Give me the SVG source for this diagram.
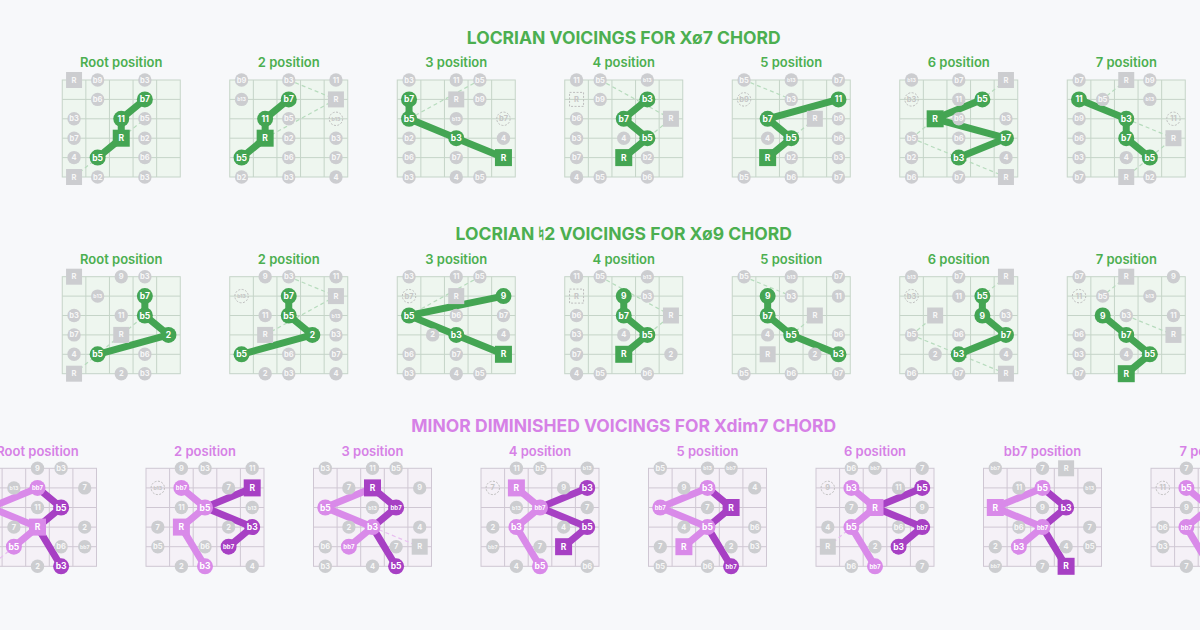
<svg xmlns="http://www.w3.org/2000/svg" width="1200" height="630" viewBox="0 0 1200 630">
<style>
text{font-family:Inter,"Noto Sans","Liberation Sans",sans-serif;font-weight:700;text-anchor:middle;dominant-baseline:central;font-size:7.5px}
.tt{font-size:17.5px;font-weight:700;dominant-baseline:auto}
.pl{font-size:13px;font-weight:600;dominant-baseline:auto}
.cg{fill:#4caf50}.cp{fill:#d681e6}
.g circle,.g rect{fill:#cccdd0}
.g text{fill:#f7f7f7}
.h circle,.h rect{fill:none;stroke:#bdbdbd;stroke-width:1;stroke-dasharray:2 1.5}
.h text{fill:#c6c6c6}
.G circle,.G rect{fill:#44a553}
.L circle,.L rect{fill:#d98ae9}
.D circle,.D rect{fill:#a740c4}
.G text,.L text,.D text{fill:#fff;font-size:8.5px}
.g.s text,.h.s text{font-size:5.2px}
.L.s text,.D.s text,.G.s text{font-size:6px}
.gp,.lp,.dp{fill:none;stroke-width:7;stroke-linejoin:round;stroke-linecap:round}
.gp{stroke:#44a553}.lp{stroke:#d98ae9}.dp{stroke:#a740c4}
.gd,.pd{fill:none;stroke-width:1.2;stroke-dasharray:4 3}
.gd{stroke:#b7dbbd}.pd{stroke:#e8bdf0}
</style>
<defs>
<g id="gg"><rect width="118" height="97" fill="#eef6ef" stroke="#c5d4c8"/><path d="M23.6 0V97M47.2 0V97M70.8 0V97M94.4 0V97M0 19.4H118M0 38.8H118M0 58.2H118M0 77.6H118" stroke="#c5d4c8" fill="none"/></g>
<g id="pg"><rect width="118" height="98" fill="#f5f1f7" stroke="#cfc7d3"/><path d="M23.6 0V98M47.2 0V98M70.8 0V98M94.4 0V98M0 19.6H118M0 39.2H118M0 58.8H118M0 78.4H118" stroke="#cfc7d3" fill="none"/></g>
</defs>
<rect width="1200" height="630" fill="#f7f8fa"/>

<text class="tt cg" x="623.75" y="44">LOCRIAN VOICINGS FOR Xø7 CHORD</text>
<text class="tt cg" x="623.75" y="240">LOCRIAN ♮2 VOICINGS FOR Xø9 CHORD</text>
<text class="tt cp" x="623.75" y="432">MINOR DIMINISHED VOICINGS FOR Xdim7 CHORD</text>

<g class="pl cg">
<text class="pl cg" x="121.25" y="67">Root position</text>
<text class="pl cg" x="288.75" y="67">2 position</text>
<text class="pl cg" x="456.25" y="67">3 position</text>
<text class="pl cg" x="623.75" y="67">4 position</text>
<text class="pl cg" x="791.25" y="67">5 position</text>
<text class="pl cg" x="958.75" y="67">6 position</text>
<text class="pl cg" x="1126.25" y="67">7 position</text>
<text class="pl cg" x="121.25" y="264">Root position</text>
<text class="pl cg" x="288.75" y="264">2 position</text>
<text class="pl cg" x="456.25" y="264">3 position</text>
<text class="pl cg" x="623.75" y="264">4 position</text>
<text class="pl cg" x="791.25" y="264">5 position</text>
<text class="pl cg" x="958.75" y="264">6 position</text>
<text class="pl cg" x="1126.25" y="264">7 position</text>
<text class="pl cp" x="37.5" y="456">Root position</text>
<text class="pl cp" x="205" y="456">2 position</text>
<text class="pl cp" x="372.5" y="456">3 position</text>
<text class="pl cp" x="540" y="456">4 position</text>
<text class="pl cp" x="707.5" y="456">5 position</text>
<text class="pl cp" x="875" y="456">6 position</text>
<text class="pl cp" x="1042.5" y="456">bb7 position</text>
<text class="pl cp" x="1210" y="456">7 position</text>
</g>

<!-- ROW 1 -->
<g id="r1-1" transform="translate(62.25 80)"><use href="#gg"/>
<g class="cn"><path class="gd" d="M11.8 97L59 58.2L82.6 38.8"/><polyline class="gp" points="35.4,77.6 59,58.2 59,38.8 82.6,19.4"/></g>
<g class="g" transform="translate(11.8 0)"><rect x="-8" y="-8" width="16" height="16"/><text>R</text></g>
<g class="g" transform="translate(35.4 0)"><circle r="6.7"/><text>b9</text></g>
<g class="g" transform="translate(82.6 0)"><circle r="6.7"/><text>b3</text></g>
<g class="g" transform="translate(35.4 19.4)"><circle r="6.7"/><text>b6</text></g>
<g class="g" transform="translate(11.8 38.8)"><circle r="6.7"/><text>b3</text></g>
<g class="g" transform="translate(82.6 38.8)"><circle r="6.7"/><text>b5</text></g>
<g class="g" transform="translate(11.8 58.2)"><circle r="6.7"/><text>b7</text></g>
<g class="g" transform="translate(82.6 58.2)"><circle r="6.7"/><text>b2</text></g>
<g class="g" transform="translate(11.8 77.6)"><circle r="6.7"/><text>4</text></g>
<g class="g" transform="translate(82.6 77.6)"><circle r="6.7"/><text>b6</text></g>
<g class="g" transform="translate(11.8 97)"><rect x="-8" y="-8" width="16" height="16"/><text>R</text></g>
<g class="g" transform="translate(35.4 97)"><circle r="6.7"/><text>b2</text></g>
<g class="g" transform="translate(82.6 97)"><circle r="6.7"/><text>b3</text></g>
<g class="G" transform="translate(35.4 77.6)"><circle r="8"/><text>b5</text></g>
<g class="G" transform="translate(59 58.2)"><rect x="-8.5" y="-8.5" width="17" height="17"/><text>R</text></g>
<g class="G" transform="translate(59 38.8)"><circle r="8"/><text>11</text></g>
<g class="G" transform="translate(82.6 19.4)"><circle r="8"/><text>b7</text></g>
</g>

<g id="r1-2" transform="translate(229.75 80)"><use href="#gg"/>
<g class="cn"><path class="gd" d="M59 0L106.2 19.4M35.4 58.2L106.2 19.4"/><polyline class="gp" points="11.8,77.6 35.4,58.2 35.4,38.8 59,19.4"/></g>
<g class="g" transform="translate(11.8 0)"><circle r="6.7"/><text>b9</text></g>
<g class="g" transform="translate(59 0)"><circle r="6.7"/><text>b3</text></g>
<g class="g" transform="translate(106.2 0)"><circle r="6.7"/><text>11</text></g>
<g class="g s" transform="translate(11.8 19.4)"><circle r="6.7"/><text>b13</text></g>
<g class="g" transform="translate(106.2 19.4)"><rect x="-8" y="-8" width="16" height="16"/><text>R</text></g>
<g class="g" transform="translate(59 38.8)"><circle r="6.7"/><text>b5</text></g>
<g class="h s" transform="translate(106.2 38.8)"><circle r="6.7"/><text>b13</text></g>
<g class="g" transform="translate(59 58.2)"><circle r="6.7"/><text>b2</text></g>
<g class="g" transform="translate(106.2 58.2)"><circle r="6.7"/><text>b3</text></g>
<g class="g" transform="translate(59 77.6)"><circle r="6.7"/><text>b6</text></g>
<g class="g" transform="translate(106.2 77.6)"><circle r="6.7"/><text>b7</text></g>
<g class="g" transform="translate(11.8 97)"><circle r="6.7"/><text>b2</text></g>
<g class="g" transform="translate(59 97)"><circle r="6.7"/><text>b3</text></g>
<g class="g" transform="translate(106.2 97)"><circle r="6.7"/><text>4</text></g>
<g class="G" transform="translate(11.8 77.6)"><circle r="8"/><text>b5</text></g>
<g class="G" transform="translate(35.4 58.2)"><rect x="-8.5" y="-8.5" width="17" height="17"/><text>R</text></g>
<g class="G" transform="translate(35.4 38.8)"><circle r="8"/><text>11</text></g>
<g class="G" transform="translate(59 19.4)"><circle r="8"/><text>b7</text></g>
</g>

<g id="r1-3" transform="translate(397.25 80)"><use href="#gg"/>
<g class="cn"><path class="gd" d="M11.8 38.8L82.6 0"/><polyline class="gp" points="11.8,19.4 11.8,38.8 59,58.2 106.2,77.6"/></g>
<g class="g" transform="translate(11.8 0)"><circle r="6.7"/><text>b3</text></g>
<g class="g" transform="translate(59 0)"><circle r="6.7"/><text>11</text></g>
<g class="g" transform="translate(82.6 0)"><circle r="6.7"/><text>b5</text></g>
<g class="g" transform="translate(59 19.4)"><rect x="-8" y="-8" width="16" height="16"/><text>R</text></g>
<g class="g" transform="translate(82.6 19.4)"><circle r="6.7"/><text>b9</text></g>
<g class="g s" transform="translate(59 38.8)"><circle r="6.7"/><text>b13</text></g>
<g class="h" transform="translate(106.2 38.8)"><circle r="6.7"/><text>b7</text></g>
<g class="g" transform="translate(11.8 58.2)"><circle r="6.7"/><text>b2</text></g>
<g class="g" transform="translate(106.2 58.2)"><circle r="6.7"/><text>4</text></g>
<g class="g" transform="translate(11.8 77.6)"><circle r="6.7"/><text>b6</text></g>
<g class="g" transform="translate(59 77.6)"><circle r="6.7"/><text>b7</text></g>
<g class="g" transform="translate(11.8 97)"><circle r="6.7"/><text>b3</text></g>
<g class="g" transform="translate(59 97)"><circle r="6.7"/><text>4</text></g>
<g class="g" transform="translate(82.6 97)"><circle r="6.7"/><text>b5</text></g>
<g class="G" transform="translate(11.8 19.4)"><circle r="8"/><text>b7</text></g>
<g class="G" transform="translate(11.8 38.8)"><circle r="8"/><text>b5</text></g>
<g class="G" transform="translate(59 58.2)"><circle r="8"/><text>b3</text></g>
<g class="G" transform="translate(106.2 77.6)"><rect x="-8.5" y="-8.5" width="17" height="17"/><text>R</text></g>
</g>

<g id="r1-4" transform="translate(564.75 80)"><use href="#gg"/>
<g class="cn"><path class="gd" d="M35.4 0L106.2 38.8L82.6 58.2"/><polyline class="gp" points="59,77.6 82.6,58.2 59,38.8 82.6,19.4"/></g>
<g class="g" transform="translate(11.8 0)"><circle r="6.7"/><text>11</text></g>
<g class="g" transform="translate(35.4 0)"><circle r="6.7"/><text>b5</text></g>
<g class="g s" transform="translate(82.6 0)"><circle r="6.7"/><text>b13</text></g>
<g class="h" transform="translate(11.8 19.4)"><rect x="-7" y="-7" width="14" height="14"/><text>R</text></g>
<g class="g" transform="translate(35.4 19.4)"><circle r="6.7"/><text>b9</text></g>
<g class="g" transform="translate(11.8 38.8)"><circle r="6.7"/><text>b6</text></g>
<g class="g" transform="translate(106.2 38.8)"><rect x="-8" y="-8" width="16" height="16"/><text>R</text></g>
<g class="g" transform="translate(11.8 58.2)"><circle r="6.7"/><text>b3</text></g>
<g class="g" transform="translate(59 58.2)"><circle r="6.7"/><text>4</text></g>
<g class="g" transform="translate(11.8 77.6)"><circle r="6.7"/><text>b7</text></g>
<g class="g" transform="translate(82.6 77.6)"><circle r="6.7"/><text>b2</text></g>
<g class="g" transform="translate(11.8 97)"><circle r="6.7"/><text>4</text></g>
<g class="g" transform="translate(35.4 97)"><circle r="6.7"/><text>b5</text></g>
<g class="g" transform="translate(82.6 97)"><circle r="6.7"/><text>b6</text></g>
<g class="G" transform="translate(59 77.6)"><rect x="-8.5" y="-8.5" width="17" height="17"/><text>R</text></g>
<g class="G" transform="translate(82.6 58.2)"><circle r="8"/><text>b5</text></g>
<g class="G" transform="translate(59 38.8)"><circle r="8"/><text>b7</text></g>
<g class="G" transform="translate(82.6 19.4)"><circle r="8"/><text>b3</text></g>
</g>

<g id="r1-5" transform="translate(732.25 80)"><use href="#gg"/>
<g class="cn"><path class="gd" d="M11.8 0L59 19.4M82.6 38.8L59 58.2"/><polyline class="gp" points="35.4,77.6 59,58.2 35.4,38.8 106.2,19.4"/></g>
<g class="g" transform="translate(11.8 0)"><circle r="6.7"/><text>b5</text></g>
<g class="g s" transform="translate(59 0)"><circle r="6.7"/><text>b13</text></g>
<g class="g" transform="translate(106.2 0)"><circle r="6.7"/><text>b7</text></g>
<g class="h" transform="translate(11.8 19.4)"><circle r="6.7"/><text>b9</text></g>
<g class="g" transform="translate(59 19.4)"><circle r="6.7"/><text>b3</text></g>
<g class="g" transform="translate(82.6 38.8)"><rect x="-8" y="-8" width="16" height="16"/><text>R</text></g>
<g class="g" transform="translate(106.2 38.8)"><circle r="6.7"/><text>b9</text></g>
<g class="g" transform="translate(35.4 58.2)"><circle r="6.7"/><text>4</text></g>
<g class="g" transform="translate(106.2 58.2)"><circle r="6.7"/><text>b6</text></g>
<g class="g" transform="translate(59 77.6)"><circle r="6.7"/><text>b2</text></g>
<g class="g" transform="translate(106.2 77.6)"><circle r="6.7"/><text>b3</text></g>
<g class="g" transform="translate(11.8 97)"><circle r="6.7"/><text>b5</text></g>
<g class="g" transform="translate(59 97)"><circle r="6.7"/><text>b6</text></g>
<g class="g" transform="translate(106.2 97)"><circle r="6.7"/><text>b7</text></g>
<g class="G" transform="translate(35.4 77.6)"><rect x="-8.5" y="-8.5" width="17" height="17"/><text>R</text></g>
<g class="G" transform="translate(59 58.2)"><circle r="8"/><text>b5</text></g>
<g class="G" transform="translate(35.4 38.8)"><circle r="8"/><text>b7</text></g>
<g class="G" transform="translate(106.2 19.4)"><circle r="8"/><text>11</text></g>
</g>

<g id="r1-6" transform="translate(899.75 80)"><use href="#gg"/>
<g class="cn"><path class="gd" d="M106.2 0L82.6 19.4M11.8 58.2L35.4 38.8M11.8 58.2L106.2 97"/><polyline class="gp" points="82.6,19.4 35.4,38.8 106.2,58.2 59,77.6"/></g>
<g class="g s" transform="translate(11.8 0)"><circle r="6.7"/><text>b13</text></g>
<g class="g" transform="translate(59 0)"><circle r="6.7"/><text>b7</text></g>
<g class="g" transform="translate(106.2 0)"><rect x="-8" y="-8" width="16" height="16"/><text>R</text></g>
<g class="h" transform="translate(11.8 19.4)"><circle r="6.7"/><text>b3</text></g>
<g class="g" transform="translate(59 19.4)"><circle r="6.7"/><text>11</text></g>
<g class="g" transform="translate(59 38.8)"><circle r="6.7"/><text>b9</text></g>
<g class="g" transform="translate(106.2 38.8)"><circle r="6.7"/><text>b3</text></g>
<g class="g" transform="translate(11.8 58.2)"><circle r="6.7"/><text>b5</text></g>
<g class="g" transform="translate(59 58.2)"><circle r="6.7"/><text>b6</text></g>
<g class="g" transform="translate(11.8 77.6)"><circle r="6.7"/><text>b2</text></g>
<g class="g" transform="translate(106.2 77.6)"><circle r="6.7"/><text>4</text></g>
<g class="g" transform="translate(11.8 97)"><circle r="6.7"/><text>b6</text></g>
<g class="g" transform="translate(59 97)"><circle r="6.7"/><text>b7</text></g>
<g class="g" transform="translate(106.2 97)"><rect x="-8" y="-8" width="16" height="16"/><text>R</text></g>
<g class="G" transform="translate(82.6 19.4)"><circle r="8"/><text>b5</text></g>
<g class="G" transform="translate(35.4 38.8)"><rect x="-8.5" y="-8.5" width="17" height="17"/><text>R</text></g>
<g class="G" transform="translate(106.2 58.2)"><circle r="8"/><text>b7</text></g>
<g class="G" transform="translate(59 77.6)"><circle r="8"/><text>b3</text></g>
</g>

<g id="r1-7" transform="translate(1067.25 80)"><use href="#gg"/>
<g class="cn"><path class="gd" d="M59 0L35.4 19.4M59 38.8L106.2 58.2L59 97"/><polyline class="gp" points="11.8,19.4 59,38.8 59,58.2 82.6,77.6"/></g>
<g class="g" transform="translate(11.8 0)"><circle r="6.7"/><text>b7</text></g>
<g class="g" transform="translate(59 0)"><rect x="-8" y="-8" width="16" height="16"/><text>R</text></g>
<g class="g" transform="translate(82.6 0)"><circle r="6.7"/><text>b9</text></g>
<g class="g" transform="translate(35.4 19.4)"><circle r="6.7"/><text>b5</text></g>
<g class="g s" transform="translate(82.6 19.4)"><circle r="6.7"/><text>b13</text></g>
<g class="g" transform="translate(11.8 38.8)"><circle r="6.7"/><text>b9</text></g>
<g class="h" transform="translate(106.2 38.8)"><circle r="6.7"/><text>11</text></g>
<g class="g" transform="translate(11.8 58.2)"><circle r="6.7"/><text>b6</text></g>
<g class="g" transform="translate(106.2 58.2)"><rect x="-8" y="-8" width="16" height="16"/><text>R</text></g>
<g class="g" transform="translate(11.8 77.6)"><circle r="6.7"/><text>b3</text></g>
<g class="g" transform="translate(59 77.6)"><circle r="6.7"/><text>4</text></g>
<g class="g" transform="translate(11.8 97)"><circle r="6.7"/><text>b7</text></g>
<g class="g" transform="translate(59 97)"><rect x="-8" y="-8" width="16" height="16"/><text>R</text></g>
<g class="g" transform="translate(82.6 97)"><circle r="6.7"/><text>b2</text></g>
<g class="G" transform="translate(11.8 19.4)"><circle r="8"/><text>11</text></g>
<g class="G" transform="translate(59 38.8)"><circle r="8"/><text>b3</text></g>
<g class="G" transform="translate(59 58.2)"><circle r="8"/><text>b7</text></g>
<g class="G" transform="translate(82.6 77.6)"><circle r="8"/><text>b5</text></g>
</g>

<!-- ROW 2 -->
<g id="r2-1" transform="translate(62.25 276.7)"><use href="#gg"/>
<g class="cn"><path class="gd" d="M11.8 97L59 58.2L82.6 38.8"/><polyline class="gp" points="35.4,77.6 106.2,58.2 82.6,38.8 82.6,19.4"/></g>
<g class="g" transform="translate(11.8 0)"><rect x="-8" y="-8" width="16" height="16"/><text>R</text></g>
<g class="g" transform="translate(59 0)"><circle r="6.7"/><text>9</text></g>
<g class="g" transform="translate(82.6 0)"><circle r="6.7"/><text>b3</text></g>
<g class="g s" transform="translate(35.4 19.4)"><circle r="6.7"/><text>b13</text></g>
<g class="g" transform="translate(11.8 38.8)"><circle r="6.7"/><text>b3</text></g>
<g class="g" transform="translate(59 38.8)"><circle r="6.7"/><text>11</text></g>
<g class="g" transform="translate(11.8 58.2)"><circle r="6.7"/><text>b7</text></g>
<g class="g" transform="translate(59 58.2)"><rect x="-8" y="-8" width="16" height="16"/><text>R</text></g>
<g class="g" transform="translate(11.8 77.6)"><circle r="6.7"/><text>4</text></g>
<g class="g" transform="translate(82.6 77.6)"><circle r="6.7"/><text>b6</text></g>
<g class="g" transform="translate(11.8 97)"><rect x="-8" y="-8" width="16" height="16"/><text>R</text></g>
<g class="g" transform="translate(59 97)"><circle r="6.7"/><text>2</text></g>
<g class="g" transform="translate(82.6 97)"><circle r="6.7"/><text>b3</text></g>
<g class="G" transform="translate(35.4 77.6)"><circle r="8"/><text>b5</text></g>
<g class="G" transform="translate(106.2 58.2)"><circle r="8"/><text>2</text></g>
<g class="G" transform="translate(82.6 38.8)"><circle r="8"/><text>b5</text></g>
<g class="G" transform="translate(82.6 19.4)"><circle r="8"/><text>b7</text></g>
</g>

<g id="r2-2" transform="translate(229.75 276.7)"><use href="#gg"/>
<g class="cn"><path class="gd" d="M59 0L106.2 19.4M35.4 58.2L106.2 19.4"/><polyline class="gp" points="11.8,77.6 82.6,58.2 59,38.8 59,19.4"/></g>
<g class="g" transform="translate(35.4 0)"><circle r="6.7"/><text>9</text></g>
<g class="g" transform="translate(59 0)"><circle r="6.7"/><text>b3</text></g>
<g class="g" transform="translate(106.2 0)"><circle r="6.7"/><text>11</text></g>
<g class="h s" transform="translate(11.8 19.4)"><circle r="6.7"/><text>b13</text></g>
<g class="g" transform="translate(106.2 19.4)"><rect x="-8" y="-8" width="16" height="16"/><text>R</text></g>
<g class="g" transform="translate(35.4 38.8)"><circle r="6.7"/><text>11</text></g>
<g class="g s" transform="translate(106.2 38.8)"><circle r="6.7"/><text>b13</text></g>
<g class="g" transform="translate(35.4 58.2)"><rect x="-8" y="-8" width="16" height="16"/><text>R</text></g>
<g class="g" transform="translate(106.2 58.2)"><circle r="6.7"/><text>b3</text></g>
<g class="g" transform="translate(59 77.6)"><circle r="6.7"/><text>b6</text></g>
<g class="g" transform="translate(106.2 77.6)"><circle r="6.7"/><text>b7</text></g>
<g class="g" transform="translate(35.4 97)"><circle r="6.7"/><text>2</text></g>
<g class="g" transform="translate(59 97)"><circle r="6.7"/><text>b3</text></g>
<g class="g" transform="translate(106.2 97)"><circle r="6.7"/><text>4</text></g>
<g class="G" transform="translate(11.8 77.6)"><circle r="8"/><text>b5</text></g>
<g class="G" transform="translate(82.6 58.2)"><circle r="8"/><text>2</text></g>
<g class="G" transform="translate(59 38.8)"><circle r="8"/><text>b5</text></g>
<g class="G" transform="translate(59 19.4)"><circle r="8"/><text>b7</text></g>
</g>

<g id="r2-3" transform="translate(397.25 276.7)"><use href="#gg"/>
<g class="cn"><path class="gd" d="M11.8 38.8L82.6 0"/><polyline class="gp" points="106.2,77.6 59,58.2 11.8,38.8 106.2,19.4"/></g>
<g class="g" transform="translate(11.8 0)"><circle r="6.7"/><text>b3</text></g>
<g class="g" transform="translate(59 0)"><circle r="6.7"/><text>11</text></g>
<g class="g" transform="translate(82.6 0)"><circle r="6.7"/><text>b5</text></g>
<g class="h" transform="translate(11.8 19.4)"><circle r="6.7"/><text>b7</text></g>
<g class="g" transform="translate(59 19.4)"><rect x="-8" y="-8" width="16" height="16"/><text>R</text></g>
<g class="g" transform="translate(59 38.8)"><circle r="6.7"/><text>b6</text></g>
<g class="g" transform="translate(106.2 38.8)"><circle r="6.7"/><text>b7</text></g>
<g class="g" transform="translate(35.4 58.2)"><circle r="6.7"/><text>2</text></g>
<g class="g" transform="translate(106.2 58.2)"><circle r="6.7"/><text>4</text></g>
<g class="g" transform="translate(11.8 77.6)"><circle r="6.7"/><text>b6</text></g>
<g class="g" transform="translate(59 77.6)"><circle r="6.7"/><text>b7</text></g>
<g class="g" transform="translate(11.8 97)"><circle r="6.7"/><text>b3</text></g>
<g class="g" transform="translate(59 97)"><circle r="6.7"/><text>4</text></g>
<g class="g" transform="translate(82.6 97)"><circle r="6.7"/><text>b5</text></g>
<g class="G" transform="translate(106.2 77.6)"><rect x="-8.5" y="-8.5" width="17" height="17"/><text>R</text></g>
<g class="G" transform="translate(59 58.2)"><circle r="8"/><text>b3</text></g>
<g class="G" transform="translate(11.8 38.8)"><circle r="8"/><text>b5</text></g>
<g class="G" transform="translate(106.2 19.4)"><circle r="8"/><text>9</text></g>
</g>

<g id="r2-4" transform="translate(564.75 276.7)"><use href="#gg"/>
<g class="cn"><path class="gd" d="M35.4 0L106.2 38.8L82.6 58.2"/><polyline class="gp" points="59,77.6 82.6,58.2 59,38.8 59,19.4"/></g>
<g class="g" transform="translate(11.8 0)"><circle r="6.7"/><text>11</text></g>
<g class="g" transform="translate(35.4 0)"><circle r="6.7"/><text>b5</text></g>
<g class="g s" transform="translate(82.6 0)"><circle r="6.7"/><text>b13</text></g>
<g class="h" transform="translate(11.8 19.4)"><rect x="-7" y="-7" width="14" height="14"/><text>R</text></g>
<g class="g" transform="translate(82.6 19.4)"><circle r="6.7"/><text>b3</text></g>
<g class="g" transform="translate(11.8 38.8)"><circle r="6.7"/><text>b6</text></g>
<g class="g" transform="translate(106.2 38.8)"><rect x="-8" y="-8" width="16" height="16"/><text>R</text></g>
<g class="g" transform="translate(11.8 58.2)"><circle r="6.7"/><text>b3</text></g>
<g class="g" transform="translate(59 58.2)"><circle r="6.7"/><text>4</text></g>
<g class="g" transform="translate(11.8 77.6)"><circle r="6.7"/><text>b7</text></g>
<g class="g" transform="translate(106.2 77.6)"><circle r="6.7"/><text>2</text></g>
<g class="g" transform="translate(11.8 97)"><circle r="6.7"/><text>4</text></g>
<g class="g" transform="translate(35.4 97)"><circle r="6.7"/><text>b5</text></g>
<g class="g" transform="translate(82.6 97)"><circle r="6.7"/><text>b6</text></g>
<g class="G" transform="translate(59 77.6)"><rect x="-8.5" y="-8.5" width="17" height="17"/><text>R</text></g>
<g class="G" transform="translate(82.6 58.2)"><circle r="8"/><text>b5</text></g>
<g class="G" transform="translate(59 38.8)"><circle r="8"/><text>b7</text></g>
<g class="G" transform="translate(59 19.4)"><circle r="8"/><text>9</text></g>
</g>

<g id="r2-5" transform="translate(732.25 276.7)"><use href="#gg"/>
<g class="cn"><path class="gd" d="M11.8 0L59 19.4M82.6 38.8L59 58.2"/><polyline class="gp" points="35.4,19.4 35.4,38.8 59,58.2 106.2,77.6"/></g>
<g class="g" transform="translate(11.8 0)"><circle r="6.7"/><text>b5</text></g>
<g class="g s" transform="translate(59 0)"><circle r="6.7"/><text>b13</text></g>
<g class="g" transform="translate(106.2 0)"><circle r="6.7"/><text>b7</text></g>
<g class="g" transform="translate(59 19.4)"><circle r="6.7"/><text>b3</text></g>
<g class="g" transform="translate(106.2 19.4)"><circle r="6.7"/><text>11</text></g>
<g class="g" transform="translate(82.6 38.8)"><rect x="-8" y="-8" width="16" height="16"/><text>R</text></g>
<g class="g" transform="translate(35.4 58.2)"><circle r="6.7"/><text>4</text></g>
<g class="g" transform="translate(106.2 58.2)"><circle r="6.7"/><text>b6</text></g>
<g class="g" transform="translate(35.4 77.6)"><rect x="-8" y="-8" width="16" height="16"/><text>R</text></g>
<g class="g" transform="translate(82.6 77.6)"><circle r="6.7"/><text>2</text></g>
<g class="g" transform="translate(11.8 97)"><circle r="6.7"/><text>b5</text></g>
<g class="g" transform="translate(59 97)"><circle r="6.7"/><text>b6</text></g>
<g class="g" transform="translate(106.2 97)"><circle r="6.7"/><text>b7</text></g>
<g class="G" transform="translate(35.4 19.4)"><circle r="8"/><text>9</text></g>
<g class="G" transform="translate(35.4 38.8)"><circle r="8"/><text>b7</text></g>
<g class="G" transform="translate(59 58.2)"><circle r="8"/><text>b5</text></g>
<g class="G" transform="translate(106.2 77.6)"><circle r="8"/><text>b3</text></g>
</g>

<g id="r2-6" transform="translate(899.75 276.7)"><use href="#gg"/>
<g class="cn"><path class="gd" d="M106.2 0L82.6 19.4M11.8 58.2L35.4 38.8M11.8 58.2L106.2 97"/><polyline class="gp" points="82.6,19.4 82.6,38.8 106.2,58.2 59,77.6"/></g>
<g class="g s" transform="translate(11.8 0)"><circle r="6.7"/><text>b13</text></g>
<g class="g" transform="translate(59 0)"><circle r="6.7"/><text>b7</text></g>
<g class="g" transform="translate(106.2 0)"><rect x="-8" y="-8" width="16" height="16"/><text>R</text></g>
<g class="h" transform="translate(11.8 19.4)"><circle r="6.7"/><text>b3</text></g>
<g class="g" transform="translate(59 19.4)"><circle r="6.7"/><text>11</text></g>
<g class="g" transform="translate(35.4 38.8)"><rect x="-8" y="-8" width="16" height="16"/><text>R</text></g>
<g class="g" transform="translate(106.2 38.8)"><circle r="6.7"/><text>b3</text></g>
<g class="g" transform="translate(11.8 58.2)"><circle r="6.7"/><text>b5</text></g>
<g class="g" transform="translate(59 58.2)"><circle r="6.7"/><text>b6</text></g>
<g class="g" transform="translate(35.4 77.6)"><circle r="6.7"/><text>2</text></g>
<g class="g" transform="translate(106.2 77.6)"><circle r="6.7"/><text>4</text></g>
<g class="g" transform="translate(11.8 97)"><circle r="6.7"/><text>b6</text></g>
<g class="g" transform="translate(59 97)"><circle r="6.7"/><text>b7</text></g>
<g class="g" transform="translate(106.2 97)"><rect x="-8" y="-8" width="16" height="16"/><text>R</text></g>
<g class="G" transform="translate(82.6 19.4)"><circle r="8"/><text>b5</text></g>
<g class="G" transform="translate(82.6 38.8)"><circle r="8"/><text>9</text></g>
<g class="G" transform="translate(106.2 58.2)"><circle r="8"/><text>b7</text></g>
<g class="G" transform="translate(59 77.6)"><circle r="8"/><text>b3</text></g>
</g>

<g id="r2-7" transform="translate(1067.25 276.7)"><use href="#gg"/>
<g class="cn"><path class="gd" d="M59 0L35.4 19.4M59 38.8L106.2 58.2"/><polyline class="gp" points="35.4,38.8 59,58.2 82.6,77.6 59,97"/></g>
<g class="g" transform="translate(11.8 0)"><circle r="6.7"/><text>b7</text></g>
<g class="g" transform="translate(59 0)"><rect x="-8" y="-8" width="16" height="16"/><text>R</text></g>
<g class="g" transform="translate(106.2 0)"><circle r="6.7"/><text>9</text></g>
<g class="h" transform="translate(11.8 19.4)"><circle r="6.7"/><text>11</text></g>
<g class="g" transform="translate(35.4 19.4)"><circle r="6.7"/><text>b5</text></g>
<g class="g s" transform="translate(82.6 19.4)"><circle r="6.7"/><text>b13</text></g>
<g class="g" transform="translate(59 38.8)"><circle r="6.7"/><text>b3</text></g>
<g class="g" transform="translate(106.2 38.8)"><circle r="6.7"/><text>11</text></g>
<g class="g" transform="translate(11.8 58.2)"><circle r="6.7"/><text>b6</text></g>
<g class="g" transform="translate(106.2 58.2)"><rect x="-8" y="-8" width="16" height="16"/><text>R</text></g>
<g class="g" transform="translate(11.8 77.6)"><circle r="6.7"/><text>b3</text></g>
<g class="g" transform="translate(59 77.6)"><circle r="6.7"/><text>4</text></g>
<g class="g" transform="translate(11.8 97)"><circle r="6.7"/><text>b7</text></g>
<g class="G" transform="translate(35.4 38.8)"><circle r="8"/><text>9</text></g>
<g class="G" transform="translate(59 58.2)"><circle r="8"/><text>b7</text></g>
<g class="G" transform="translate(82.6 77.6)"><circle r="8"/><text>b5</text></g>
<g class="G" transform="translate(59 97)"><rect x="-8.5" y="-8.5" width="17" height="17"/><text>R</text></g>
</g>

<!-- ROW 3 -->
<g id="r3-1" transform="translate(-21.5 468.3)"><use href="#pg"/>
<g class="cn"><path class="pd" d="M35.4 78.4L11.8 98"/><polyline class="lp" points="59,19.6 11.8,39.2 59,58.8 35.4,78.4"/><polyline class="dp" points="59,19.6 82.6,39.2 59,58.8 82.6,98"/></g>
<g class="g" transform="translate(11.8 0)"><rect x="-8" y="-8" width="16" height="16"/><text>R</text></g>
<g class="g" transform="translate(59 0)"><circle r="6.7"/><text>9</text></g>
<g class="g" transform="translate(82.6 0)"><circle r="6.7"/><text>b3</text></g>
<g class="g s" transform="translate(35.4 19.6)"><circle r="6.7"/><text>b13</text></g>
<g class="g" transform="translate(106.2 19.6)"><circle r="6.7"/><text>7</text></g>
<g class="g" transform="translate(59 39.2)"><circle r="6.7"/><text>11</text></g>
<g class="g" transform="translate(35.4 58.8)"><circle r="6.7"/><text>7</text></g>
<g class="g" transform="translate(106.2 58.8)"><circle r="6.7"/><text>2</text></g>
<g class="g" transform="translate(11.8 78.4)"><circle r="6.7"/><text>4</text></g>
<g class="g" transform="translate(82.6 78.4)"><circle r="6.7"/><text>b6</text></g>
<g class="g s" transform="translate(106.2 78.4)"><circle r="6.7"/><text>bb7</text></g>
<g class="g" transform="translate(11.8 98)"><rect x="-8" y="-8" width="16" height="16"/><text>R</text></g>
<g class="g" transform="translate(59 98)"><circle r="6.7"/><text>2</text></g>
<g class="L s" transform="translate(59 19.6)"><circle r="8"/><text>bb7</text></g>
<g class="L" transform="translate(11.8 39.2)"><circle r="8"/><text>b3</text></g>
<g class="D" transform="translate(82.6 39.2)"><circle r="8"/><text>b5</text></g>
<g class="L" transform="translate(59 58.8)"><rect x="-8.5" y="-8.5" width="17" height="17"/><text>R</text></g>
<g class="L" transform="translate(35.4 78.4)"><circle r="8"/><text>b5</text></g>
<g class="D" transform="translate(82.6 98)"><circle r="8"/><text>b3</text></g>
</g>

<g id="r3-2" transform="translate(146 468.3)"><use href="#pg"/>
<g class="cn"><polyline class="lp" points="35.4,19.6 59,39.2 35.4,58.8 59,98"/><polyline class="dp" points="106.2,19.6 59,39.2 106.2,58.8 82.6,78.4"/></g>
<g class="g" transform="translate(35.4 0)"><circle r="6.7"/><text>9</text></g>
<g class="g" transform="translate(59 0)"><circle r="6.7"/><text>b3</text></g>
<g class="g" transform="translate(106.2 0)"><circle r="6.7"/><text>11</text></g>
<g class="h s" transform="translate(11.8 19.6)"><circle r="6.7"/><text>b13</text></g>
<g class="g" transform="translate(82.6 19.6)"><circle r="6.7"/><text>7</text></g>
<g class="g" transform="translate(35.4 39.2)"><circle r="6.7"/><text>11</text></g>
<g class="g s" transform="translate(106.2 39.2)"><circle r="6.7"/><text>b13</text></g>
<g class="g" transform="translate(11.8 58.8)"><circle r="6.7"/><text>7</text></g>
<g class="g" transform="translate(82.6 58.8)"><circle r="6.7"/><text>2</text></g>
<g class="g" transform="translate(11.8 78.4)"><circle r="6.7"/><text>b5</text></g>
<g class="g" transform="translate(59 78.4)"><circle r="6.7"/><text>b6</text></g>
<g class="g" transform="translate(35.4 98)"><circle r="6.7"/><text>2</text></g>
<g class="g" transform="translate(106.2 98)"><circle r="6.7"/><text>4</text></g>
<g class="L s" transform="translate(35.4 19.6)"><circle r="8"/><text>bb7</text></g>
<g class="D" transform="translate(106.2 19.6)"><rect x="-8.5" y="-8.5" width="17" height="17"/><text>R</text></g>
<g class="L" transform="translate(59 39.2)"><circle r="8"/><text>b5</text></g>
<g class="L" transform="translate(35.4 58.8)"><rect x="-8.5" y="-8.5" width="17" height="17"/><text>R</text></g>
<g class="D" transform="translate(106.2 58.8)"><circle r="8"/><text>b3</text></g>
<g class="D s" transform="translate(82.6 78.4)"><circle r="8"/><text>bb7</text></g>
<g class="L" transform="translate(59 98)"><circle r="8"/><text>b3</text></g>
</g>

<g id="r3-3" transform="translate(313.5 468.3)"><use href="#pg"/>
<g class="cn"><path class="pd" d="M59 58.8L106.2 78.4"/><polyline class="lp" points="59,19.6 11.8,39.2 59,58.8 35.4,78.4"/><polyline class="dp" points="59,19.6 82.6,39.2 59,58.8 82.6,98"/></g>
<g class="g" transform="translate(11.8 0)"><circle r="6.7"/><text>b3</text></g>
<g class="g" transform="translate(59 0)"><circle r="6.7"/><text>11</text></g>
<g class="g" transform="translate(82.6 0)"><circle r="6.7"/><text>b5</text></g>
<g class="g" transform="translate(35.4 19.6)"><circle r="6.7"/><text>7</text></g>
<g class="g" transform="translate(106.2 19.6)"><circle r="6.7"/><text>9</text></g>
<g class="g s" transform="translate(59 39.2)"><circle r="6.7"/><text>b13</text></g>
<g class="g" transform="translate(35.4 58.8)"><circle r="6.7"/><text>2</text></g>
<g class="g" transform="translate(106.2 58.8)"><circle r="6.7"/><text>4</text></g>
<g class="g" transform="translate(11.8 78.4)"><circle r="6.7"/><text>b6</text></g>
<g class="g" transform="translate(82.6 78.4)"><circle r="6.7"/><text>7</text></g>
<g class="g" transform="translate(106.2 78.4)"><rect x="-8" y="-8" width="16" height="16"/><text>R</text></g>
<g class="g" transform="translate(11.8 98)"><circle r="6.7"/><text>b3</text></g>
<g class="g" transform="translate(59 98)"><circle r="6.7"/><text>4</text></g>
<g class="D" transform="translate(59 19.6)"><rect x="-8.5" y="-8.5" width="17" height="17"/><text>R</text></g>
<g class="L" transform="translate(11.8 39.2)"><circle r="8"/><text>b5</text></g>
<g class="D s" transform="translate(82.6 39.2)"><circle r="8"/><text>bb7</text></g>
<g class="L" transform="translate(59 58.8)"><circle r="8"/><text>b3</text></g>
<g class="L s" transform="translate(35.4 78.4)"><circle r="8"/><text>bb7</text></g>
<g class="D" transform="translate(82.6 98)"><circle r="8"/><text>b5</text></g>
</g>

<g id="r3-4" transform="translate(481 468.3)"><use href="#pg"/>
<g class="cn"><polyline class="lp" points="35.4,19.6 59,39.2 35.4,58.8 59,98"/><polyline class="dp" points="106.2,19.6 59,39.2 106.2,58.8 82.6,78.4"/></g>
<g class="g" transform="translate(35.4 0)"><circle r="6.7"/><text>11</text></g>
<g class="g" transform="translate(59 0)"><circle r="6.7"/><text>b5</text></g>
<g class="g s" transform="translate(106.2 0)"><circle r="6.7"/><text>b13</text></g>
<g class="h" transform="translate(11.8 19.6)"><circle r="6.7"/><text>7</text></g>
<g class="g" transform="translate(82.6 19.6)"><circle r="6.7"/><text>9</text></g>
<g class="g s" transform="translate(35.4 39.2)"><circle r="6.7"/><text>b13</text></g>
<g class="g" transform="translate(106.2 39.2)"><circle r="6.7"/><text>7</text></g>
<g class="g" transform="translate(11.8 58.8)"><circle r="6.7"/><text>2</text></g>
<g class="g" transform="translate(82.6 58.8)"><circle r="6.7"/><text>4</text></g>
<g class="g s" transform="translate(11.8 78.4)"><circle r="6.7"/><text>bb7</text></g>
<g class="g" transform="translate(59 78.4)"><circle r="6.7"/><text>7</text></g>
<g class="g" transform="translate(35.4 98)"><circle r="6.7"/><text>4</text></g>
<g class="g" transform="translate(106.2 98)"><circle r="6.7"/><text>b6</text></g>
<g class="L" transform="translate(35.4 19.6)"><rect x="-8.5" y="-8.5" width="17" height="17"/><text>R</text></g>
<g class="D" transform="translate(106.2 19.6)"><circle r="8"/><text>b3</text></g>
<g class="L s" transform="translate(59 39.2)"><circle r="8"/><text>bb7</text></g>
<g class="L" transform="translate(35.4 58.8)"><circle r="8"/><text>b3</text></g>
<g class="D" transform="translate(106.2 58.8)"><circle r="8"/><text>b5</text></g>
<g class="D" transform="translate(82.6 78.4)"><rect x="-8.5" y="-8.5" width="17" height="17"/><text>R</text></g>
<g class="L" transform="translate(59 98)"><circle r="8"/><text>b5</text></g>
</g>

<g id="r3-5" transform="translate(648.5 468.3)"><use href="#pg"/>
<g class="cn"><polyline class="lp" points="59,19.6 11.8,39.2 59,58.8 35.4,78.4"/><polyline class="dp" points="59,19.6 82.6,39.2 59,58.8 82.6,98"/></g>
<g class="g" transform="translate(11.8 0)"><circle r="6.7"/><text>b5</text></g>
<g class="g s" transform="translate(59 0)"><circle r="6.7"/><text>b13</text></g>
<g class="g s" transform="translate(82.6 0)"><circle r="6.7"/><text>bb7</text></g>
<g class="g" transform="translate(35.4 19.6)"><circle r="6.7"/><text>9</text></g>
<g class="g" transform="translate(106.2 19.6)"><circle r="6.7"/><text>4</text></g>
<g class="g" transform="translate(59 39.2)"><circle r="6.7"/><text>7</text></g>
<g class="g" transform="translate(35.4 58.8)"><circle r="6.7"/><text>4</text></g>
<g class="g" transform="translate(106.2 58.8)"><circle r="6.7"/><text>b6</text></g>
<g class="g" transform="translate(11.8 78.4)"><circle r="6.7"/><text>7</text></g>
<g class="g" transform="translate(82.6 78.4)"><circle r="6.7"/><text>2</text></g>
<g class="g" transform="translate(106.2 78.4)"><circle r="6.7"/><text>b3</text></g>
<g class="g" transform="translate(11.8 98)"><circle r="6.7"/><text>b5</text></g>
<g class="g" transform="translate(59 98)"><circle r="6.7"/><text>b6</text></g>
<g class="L" transform="translate(59 19.6)"><circle r="8"/><text>b3</text></g>
<g class="L s" transform="translate(11.8 39.2)"><circle r="8"/><text>bb7</text></g>
<g class="D" transform="translate(82.6 39.2)"><rect x="-8.5" y="-8.5" width="17" height="17"/><text>R</text></g>
<g class="L" transform="translate(59 58.8)"><circle r="8"/><text>b5</text></g>
<g class="L" transform="translate(35.4 78.4)"><rect x="-8.5" y="-8.5" width="17" height="17"/><text>R</text></g>
<g class="D s" transform="translate(82.6 98)"><circle r="8"/><text>bb7</text></g>
</g>

<g id="r3-6" transform="translate(816 468.3)"><use href="#pg"/>
<g class="cn"><path class="pd" d="M11.8 78.4L35.4 58.8"/><polyline class="lp" points="35.4,19.6 59,39.2 35.4,58.8 59,98"/><polyline class="dp" points="106.2,19.6 59,39.2 106.2,58.8 82.6,78.4"/></g>
<g class="g" transform="translate(35.4 0)"><circle r="6.7"/><text>b6</text></g>
<g class="g s" transform="translate(59 0)"><circle r="6.7"/><text>bb7</text></g>
<g class="g" transform="translate(106.2 0)"><circle r="6.7"/><text>7</text></g>
<g class="h" transform="translate(11.8 19.6)"><circle r="6.7"/><text>9</text></g>
<g class="g" transform="translate(82.6 19.6)"><circle r="6.7"/><text>11</text></g>
<g class="g" transform="translate(35.4 39.2)"><circle r="6.7"/><text>7</text></g>
<g class="g" transform="translate(106.2 39.2)"><circle r="6.7"/><text>9</text></g>
<g class="g" transform="translate(11.8 58.8)"><circle r="6.7"/><text>4</text></g>
<g class="g" transform="translate(82.6 58.8)"><circle r="6.7"/><text>b6</text></g>
<g class="g" transform="translate(11.8 78.4)"><rect x="-8" y="-8" width="16" height="16"/><text>R</text></g>
<g class="g" transform="translate(59 78.4)"><circle r="6.7"/><text>2</text></g>
<g class="g" transform="translate(35.4 98)"><circle r="6.7"/><text>b6</text></g>
<g class="g" transform="translate(106.2 98)"><circle r="6.7"/><text>7</text></g>
<g class="L" transform="translate(35.4 19.6)"><circle r="8"/><text>b3</text></g>
<g class="D" transform="translate(106.2 19.6)"><circle r="8"/><text>b5</text></g>
<g class="L" transform="translate(59 39.2)"><rect x="-8.5" y="-8.5" width="17" height="17"/><text>R</text></g>
<g class="L" transform="translate(35.4 58.8)"><circle r="8"/><text>b5</text></g>
<g class="D s" transform="translate(106.2 58.8)"><circle r="8"/><text>bb7</text></g>
<g class="D" transform="translate(82.6 78.4)"><circle r="8"/><text>b3</text></g>
<g class="L s" transform="translate(59 98)"><circle r="8"/><text>bb7</text></g>
</g>

<g id="r3-7" transform="translate(983.5 468.3)"><use href="#pg"/>
<g class="cn"><polyline class="lp" points="59,19.6 11.8,39.2 59,58.8 35.4,78.4"/><polyline class="dp" points="59,19.6 82.6,39.2 59,58.8 82.6,98"/></g>
<g class="g s" transform="translate(11.8 0)"><circle r="6.7"/><text>bb7</text></g>
<g class="g" transform="translate(59 0)"><circle r="6.7"/><text>7</text></g>
<g class="g" transform="translate(82.6 0)"><rect x="-8" y="-8" width="16" height="16"/><text>R</text></g>
<g class="g" transform="translate(35.4 19.6)"><circle r="6.7"/><text>11</text></g>
<g class="g s" transform="translate(106.2 19.6)"><circle r="6.7"/><text>b13</text></g>
<g class="g" transform="translate(59 39.2)"><circle r="6.7"/><text>9</text></g>
<g class="g" transform="translate(35.4 58.8)"><circle r="6.7"/><text>b6</text></g>
<g class="g" transform="translate(106.2 58.8)"><circle r="6.7"/><text>7</text></g>
<g class="g" transform="translate(11.8 78.4)"><circle r="6.7"/><text>2</text></g>
<g class="g" transform="translate(82.6 78.4)"><circle r="6.7"/><text>4</text></g>
<g class="g" transform="translate(106.2 78.4)"><circle r="6.7"/><text>b5</text></g>
<g class="g s" transform="translate(11.8 98)"><circle r="6.7"/><text>bb7</text></g>
<g class="g" transform="translate(59 98)"><circle r="6.7"/><text>7</text></g>
<g class="L" transform="translate(59 19.6)"><circle r="8"/><text>b5</text></g>
<g class="L" transform="translate(11.8 39.2)"><rect x="-8.5" y="-8.5" width="17" height="17"/><text>R</text></g>
<g class="D" transform="translate(82.6 39.2)"><circle r="8"/><text>b3</text></g>
<g class="L s" transform="translate(59 58.8)"><circle r="8"/><text>bb7</text></g>
<g class="L" transform="translate(35.4 78.4)"><circle r="8"/><text>b3</text></g>
<g class="D" transform="translate(82.6 98)"><rect x="-8.5" y="-8.5" width="17" height="17"/><text>R</text></g>
</g>

<g id="r3-8" transform="translate(1151 468.3)"><use href="#pg"/>
<g class="cn"><polyline class="lp" points="35.4,19.6 59,39.2 35.4,58.8 59,98"/><polyline class="dp" points="106.2,19.6 59,39.2 106.2,58.8 82.6,78.4"/></g>
<g class="g" transform="translate(35.4 0)"><circle r="6.7"/><text>7</text></g>
<g class="g" transform="translate(59 0)"><rect x="-8" y="-8" width="16" height="16"/><text>R</text></g>
<g class="g" transform="translate(106.2 0)"><circle r="6.7"/><text>9</text></g>
<g class="h" transform="translate(11.8 19.6)"><circle r="6.7"/><text>11</text></g>
<g class="g s" transform="translate(82.6 19.6)"><circle r="6.7"/><text>b13</text></g>
<g class="g" transform="translate(35.4 39.2)"><circle r="6.7"/><text>9</text></g>
<g class="g" transform="translate(106.2 39.2)"><circle r="6.7"/><text>11</text></g>
<g class="g" transform="translate(11.8 58.8)"><circle r="6.7"/><text>b6</text></g>
<g class="g" transform="translate(82.6 58.8)"><circle r="6.7"/><text>7</text></g>
<g class="g" transform="translate(11.8 78.4)"><circle r="6.7"/><text>b3</text></g>
<g class="g" transform="translate(59 78.4)"><circle r="6.7"/><text>4</text></g>
<g class="g" transform="translate(35.4 98)"><circle r="6.7"/><text>7</text></g>
<g class="g" transform="translate(106.2 98)"><circle r="6.7"/><text>2</text></g>
<g class="L" transform="translate(35.4 19.6)"><circle r="8"/><text>b5</text></g>
<g class="D s" transform="translate(106.2 19.6)"><circle r="8"/><text>bb7</text></g>
<g class="L" transform="translate(59 39.2)"><circle r="8"/><text>b3</text></g>
<g class="L s" transform="translate(35.4 58.8)"><circle r="8"/><text>bb7</text></g>
<g class="D" transform="translate(106.2 58.8)"><rect x="-8.5" y="-8.5" width="17" height="17"/><text>R</text></g>
<g class="D" transform="translate(82.6 78.4)"><circle r="8"/><text>b5</text></g>
<g class="L" transform="translate(59 98)"><rect x="-8.5" y="-8.5" width="17" height="17"/><text>R</text></g>
</g>
</svg>
